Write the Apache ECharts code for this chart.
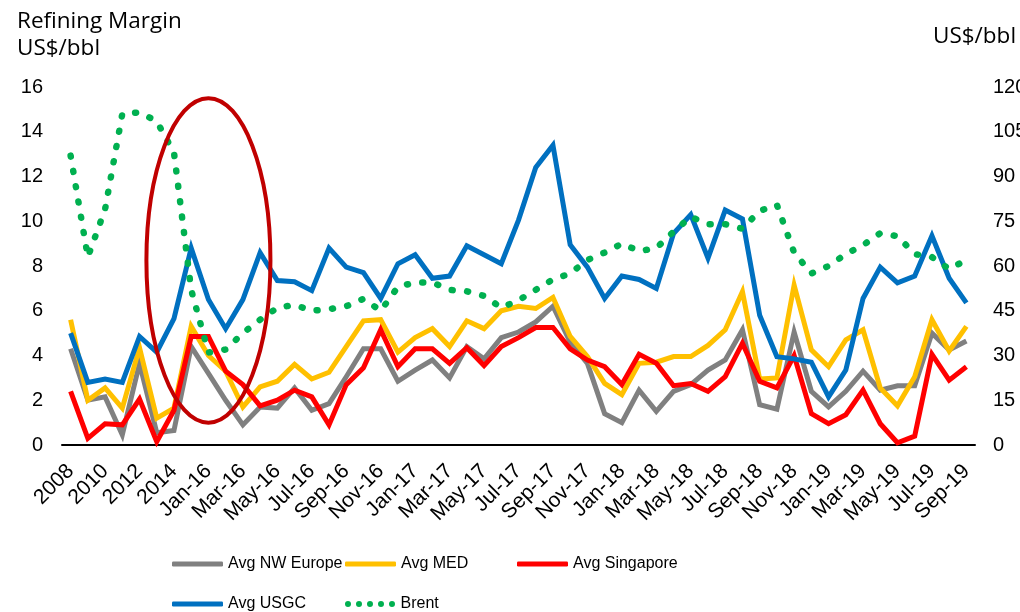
<!DOCTYPE html>
<html><head><meta charset="utf-8">
<script src="https://cdn.jsdelivr.net/npm/echarts@6/dist/echarts.min.js"></script>
<style>html,body{margin:0;padding:0;background:#fff}#c{width:1020px;height:612px}</style>
</head><body><div id="c"></div>
<script>
const categories = ['2008','2009','2010','2011','2012','2013','2014','2015',
 'Jan-16','Feb-16','Mar-16','Apr-16','May-16','Jun-16','Jul-16','Aug-16','Sep-16','Oct-16','Nov-16','Dec-16',
 'Jan-17','Feb-17','Mar-17','Apr-17','May-17','Jun-17','Jul-17','Aug-17','Sep-17','Oct-17','Nov-17','Dec-17',
 'Jan-18','Feb-18','Mar-18','Apr-18','May-18','Jun-18','Jul-18','Aug-18','Sep-18','Oct-18','Nov-18','Dec-18',
 'Jan-19','Feb-19','Mar-19','Apr-19','May-19','Jun-19','Jul-19','Aug-19','Sep-19'];
const nwEurope = [4.3,2.0,2.15,0.45,3.65,0.55,0.65,4.4,3.2,2.0,0.9,1.7,1.65,2.55,1.55,1.85,3.05,4.3,4.3,2.85,3.35,3.8,3.0,4.4,3.85,4.8,5.05,5.5,6.2,4.6,3.65,1.4,1.0,2.45,1.5,2.4,2.7,3.35,3.8,5.15,1.8,1.6,5.05,2.4,1.7,2.4,3.3,2.45,2.65,2.65,5.0,4.25,4.65];
const med = [5.6,2.0,2.55,1.65,4.35,1.2,1.65,5.3,4.0,3.3,1.7,2.6,2.85,3.6,2.95,3.25,4.4,5.55,5.6,4.15,4.8,5.2,4.4,5.55,5.2,6.0,6.2,6.1,6.6,4.85,3.95,2.75,2.25,3.65,3.7,3.95,3.95,4.45,5.15,6.85,2.95,3.0,7.15,4.25,3.5,4.7,5.15,2.55,1.75,3.05,5.6,4.2,5.3];
const singapore = [2.4,0.3,0.95,0.9,2.05,0.15,1.55,4.85,4.85,3.3,2.7,1.75,2.0,2.45,2.15,0.9,2.7,3.45,5.15,3.5,4.3,4.3,3.65,4.35,3.55,4.4,4.8,5.25,5.25,4.3,3.8,3.5,2.7,4.05,3.65,2.65,2.75,2.4,3.05,4.55,2.85,2.55,4.0,1.4,0.95,1.35,2.45,0.95,0.1,0.4,4.05,2.9,3.5];
const usgc = [5.0,2.8,2.95,2.8,4.85,4.15,5.65,8.8,6.5,5.2,6.5,8.6,7.35,7.3,6.9,8.8,7.95,7.7,6.55,8.1,8.5,7.45,7.55,8.9,8.5,8.1,10.05,12.4,13.4,8.95,7.95,6.55,7.55,7.4,7.0,9.45,10.3,8.35,10.5,10.1,5.8,3.95,3.85,3.7,2.15,3.35,6.55,7.95,7.25,7.55,9.35,7.45,6.35];
const brent = [97,63,79,111,111.5,108.5,98,52,31,32,37.5,42,46,47,45,45.5,46.5,49,45,53,54.5,54.5,52,51.5,50,46,48.5,52,55.5,57.5,62,64.5,67.5,65,66,71.5,76.5,74,74,72.5,78.5,80.5,64.5,57.5,60,64,67,71,70,64,63,59,62];
const seriesNames = ['Avg NW Europe','Avg MED','Avg Singapore','Avg USGC','Brent'];
const leftTicks = {min:0,max:16,interval:2};
const rightTicks = {min:0,max:120,interval:15};

const chart = echarts.init(document.getElementById('c'));
const axisFont = {fontFamily:'Liberation Sans, Arial, sans-serif', fontSize:20, color:'#000'};
const xFont = {fontFamily:'Liberation Sans, Arial, sans-serif', fontSize:21, color:'#000'};
const legendFont = {fontFamily:'Liberation Sans, Arial, sans-serif', fontSize:16, color:'#000'};
const titleFont = '22.5px "Open Sans", sans-serif';
function lineSeries(name, data, color, yIdx, dotted){
  return {name, type:'line', data, yAxisIndex:yIdx, symbol:'none', smooth:false, animation:false,
    lineStyle: dotted ? {color, width:6.5, type:[1,14.5], cap:'round'} : {color, width:5, cap:'butt', join:'miter'},
    itemStyle:{color}};
}
const dotsIcon = 'path://' + [0,1,2,3,4].map(k => {
  const x = k*11;
  return 'M' + x + ',3a3,3 0 1,0 6,0a3,3 0 1,0 -6,0z';
}).join('');
function legendAt(name, left, top, dotted){
  return {data:[{name, icon: dotted ? dotsIcon : 'roundRect'}], left, top,
    itemWidth:51, itemHeight: dotted ? 6 : 5, itemGap:0, padding:0, textStyle:legendFont, selectedMode:false};
}
const titles = [
  {type:'text',left:17,top:10,style:{text:'Refining Margin',font:titleFont,fill:'#000'}},
  {type:'text',left:17,top:37,style:{text:'US$/bbl',font:titleFont,fill:'#000'}},
  {type:'text',left:933,top:25,style:{text:'US$/bbl',font:titleFont,fill:'#000'}}
];
chart.setOption({
  animation:false,
  grid:{left:62,right:45,top:87,bottom:167,containLabel:false,outerBoundsMode:'none'},
  xAxis:{type:'category',data:categories,boundaryGap:true,
    axisLine:{lineStyle:{color:'#000',width:2}},axisTick:{show:false},
    axisLabel:Object.assign({interval:1,rotate:45,margin:23},xFont)},
  yAxis:[
    {type:'value',min:leftTicks.min,max:leftTicks.max,interval:leftTicks.interval,splitLine:{show:false},
     axisLine:{show:false},axisTick:{show:false},axisLabel:Object.assign({margin:19},axisFont)},
    {type:'value',min:rightTicks.min,max:rightTicks.max,interval:rightTicks.interval,splitLine:{show:false},
     axisLine:{show:false},axisTick:{show:false},axisLabel:Object.assign({margin:18},axisFont)}
  ],
  legend:[legendAt(seriesNames[0],172,556),legendAt(seriesNames[1],345,556),legendAt(seriesNames[2],517,556),
          legendAt(seriesNames[3],172,596),legendAt(seriesNames[4],345,596,true)],
  series:[
    lineSeries(seriesNames[0], nwEurope, '#808080', 0, false),
    lineSeries(seriesNames[1], med, '#FFC000', 0, false),
    lineSeries(seriesNames[2], singapore, '#FF0000', 0, false),
    lineSeries(seriesNames[3], usgc, '#0070C0', 0, false),
    lineSeries(seriesNames[4], brent, '#00B050', 1, true)
  ],
  graphic:titles
});
// annotation ellipse around early 2016
const c0 = chart.convertToPixel({xAxisIndex:0}, 'Jan-16');
const yTop = chart.convertToPixel({yAxisIndex:0}, 15.5);
const yBot = chart.convertToPixel({yAxisIndex:0}, 1.0);
const step = chart.convertToPixel({xAxisIndex:0}, 'Feb-16') - c0;
chart.setOption({graphic: titles.concat([
  {type:'ellipse',z:100,shape:{cx:c0,cy:(yTop+yBot)/2,rx:step*3.6,ry:(yBot-yTop)/2},
   style:{fill:'none',stroke:'#C00000',lineWidth:4}}
])});
</script></body></html>
